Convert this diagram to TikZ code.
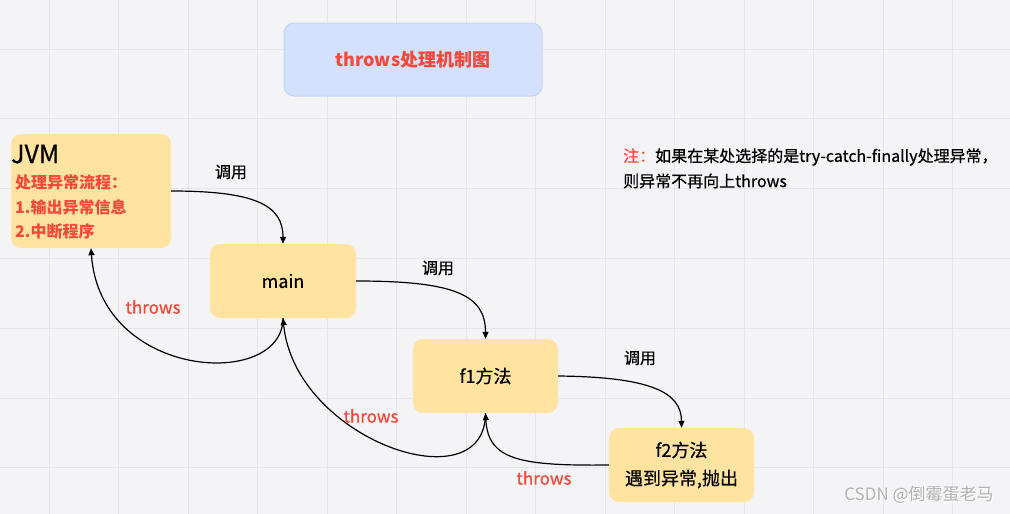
\documentclass[tikz,border=0pt]{standalone}
\usepackage{fontspec}
\setmainfont{Noto Sans CJK SC}
\newfontfamily\medf{Noto Sans CJK SC}[FakeBold=0.6]
\usetikzlibrary{arrows.meta}
\definecolor{bg}{HTML}{F4F4F6}
\definecolor{gridc}{HTML}{E6E6EA}
\definecolor{boxy}{HTML}{FFE3A0}
\definecolor{titlefill}{HTML}{D3E1FD}
\definecolor{titleborder}{HTML}{C4D5F4}
\definecolor{redt}{HTML}{F5483B}
\definecolor{wm}{HTML}{B2B2B2}
\begin{document}
\begin{tikzpicture}[x=1pt,y=-1pt,
  ybox/.style={fill=boxy, rounded corners=10pt, inner sep=0pt, align=center},
  conn/.style={draw=black, line width=1.2pt, -{Triangle[length=7pt,width=6pt]}},
  calllbl/.style={inner sep=0pt, font=\fontsize{16}{16}\medf, text=black},
  thrlbl/.style={inner sep=0pt, font=\fontsize{17}{17}\medf, text=redt},
  boxtxt/.style={font=\fontsize{18}{28}\medf}]
\fill[bg] (0,0) rectangle (1010,514);
\useasboundingbox (0,0) rectangle (1010,514);
\foreach \k in {0,...,13} \draw[gridc, line width=1pt] ({49.3+69.5*\k},0) -- ({49.3+69.5*\k},514);
\foreach \k in {0,...,6} \draw[gridc, line width=1pt] (0,{49+69.8*\k}) -- (1010,{49+69.8*\k});

% title
\node[draw=titleborder, fill=titlefill, rounded corners=10pt, line width=1pt,
      minimum width=258pt, minimum height=73pt, inner sep=0pt,
      font=\fontsize{18}{18}\selectfont\bfseries, text=redt] (title) at (413,59.5) {throws处理机制图};

% boxes
\node[ybox, minimum width=160pt, minimum height=114pt] (jvm) at (91,191) {};
\node[anchor=west, inner sep=0pt, font=\fontsize{25}{25}\medf] (jvmt) at (11,154) {JVM};
\node[anchor=west, inner sep=0pt, font=\fontsize{16}{16}\selectfont\bfseries, text=redt] (jvm1) at (15,182) {处理异常流程：};
\node[anchor=west, inner sep=0pt, font=\fontsize{16}{16}\selectfont\bfseries, text=redt] (jvm2) at (15,207) {1.输出异常信息};
\node[anchor=west, inner sep=0pt, font=\fontsize{16}{16}\selectfont\bfseries, text=redt] (jvm3) at (15,231) {2.中断程序};

\node[ybox, boxtxt, minimum width=146pt, minimum height=74pt] (main) at (283,281) {main};
\node[ybox, boxtxt, minimum width=145pt, minimum height=74pt] (f1) at (485.5,376) {f1方法};
\node[ybox, boxtxt, minimum width=145pt, minimum height=74pt] (f2) at (681.5,465) {f2方法\\遇到异常,抛出};

% calls
\draw[conn] (jvm.east) .. controls (255,191) and (283,205) .. (main.north);
\draw[conn] (main.east) .. controls (455,281) and (485.5,295) .. (f1.north);
\draw[conn] (f1.east) .. controls (650,377) and (681.5,392) .. (f2.north);
\node[calllbl] (c1) at (231,172) {调用};
\node[calllbl] (c2) at (438,268) {调用};
\node[calllbl] (c3) at (640,358) {调用};

% throws
\draw[conn] (main.south) .. controls (283,390) and (100,380) .. (jvm.south);
\draw[conn] (f1.south) .. controls (485.5,505) and (295,440) .. (main.south);
\draw[conn] (f2.west) .. controls (520,466) and (488,460) .. (f1.south);
\node[thrlbl] (t1) at (153,307) {throws};
\node[thrlbl] (t2) at (371,416) {throws};
\node[thrlbl] (t3) at (544,478) {throws};

% note
\node[anchor=west, inner sep=0pt, font=\fontsize{16}{16}\medf] (note1) at (623,157) {{\color{redt}注：}如果在某处选择的是try-catch-finally处理异常，};
\node[anchor=west, inner sep=0pt, font=\fontsize{16}{16}\medf] (note2) at (623,181) {则异常不再向上throws};

% watermark
\node[inner sep=0pt, font=\fontsize{17}{17}\selectfont, text=white] at (920,496) {CSDN @倒霉蛋老马};
\node[inner sep=0pt, font=\fontsize{17}{17}\selectfont, text=wm] (wmk) at (919,495) {CSDN @倒霉蛋老马};
\end{tikzpicture}
\end{document}
